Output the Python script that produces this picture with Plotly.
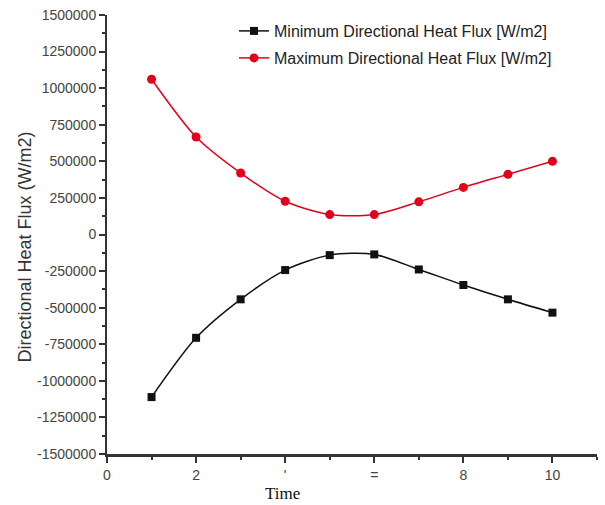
import plotly.graph_objects as go

time = [1, 2, 3, 4, 5, 6, 7, 8, 9, 10]
min_flux = [-1111000, -706000, -443000, -243000, -141000, -136000, -239000, -345000, -443000, -534000]
max_flux = [1061000, 666000, 420000, 227000, 136000, 136000, 223000, 322000, 411000, 500000]

y_tick_vals = [-1500000, -1250000, -1000000, -750000, -500000, -250000, 0,
               250000, 500000, 750000, 1000000, 1250000, 1500000]
y_tick_labels = ["-1500000", "-1250000", "-1000000", "-750000", "-500000", "-250000", "0",
                 "250000", "500000", "750000", "1000000", "1250000", "1500000"]
x_tick_vals = [0, 2, 4, 6, 8, 10]
x_tick_labels = ["0", "2", "'", "=", "8", "10"]

RED = "#e3001b"
AX = "#333333"

fig = go.Figure()
fig.add_trace(go.Scatter(
    x=time, y=min_flux, mode="lines+markers", name="Minimum Directional Heat Flux [W/m2]",
    line=dict(color="#111111", width=1.5, shape="spline", smoothing=0.8),
    marker=dict(symbol="square", size=8, color="#111111"),
    legend="legend",
))
fig.add_trace(go.Scatter(
    x=time, y=max_flux, mode="lines+markers", name="Maximum Directional Heat Flux [W/m2]",
    line=dict(color=RED, width=1.5, shape="spline", smoothing=0.8),
    marker=dict(symbol="circle", size=9, color=RED),
    legend="legend2",
))

L, R, T, B = 107, 8, 15, 51
W, H = 605, 505
pw, ph = W - L - R, H - T - B

def px(xp):
    return (xp - L) / pw

def py(yp):
    return (H - B - yp) / ph

legfont = dict(family="Liberation Sans, Arial, sans-serif", size=16, color="#222222")

fig.update_layout(
    width=W, height=H,
    margin=dict(l=L, r=R, t=T, b=B),
    paper_bgcolor="white", plot_bgcolor="white",
    font=dict(family="Liberation Sans, Arial, sans-serif", size=14, color="#333333"),
    showlegend=True,
    legend=dict(x=px(234), y=py(31), xanchor="left", yanchor="middle",
                bgcolor="rgba(0,0,0,0)", font=legfont, itemwidth=30),
    legend2=dict(x=px(234), y=py(58), xanchor="left", yanchor="middle",
                 bgcolor="rgba(0,0,0,0)", font=legfont, itemwidth=30),
    xaxis=dict(
        range=[0, 11], tickvals=x_tick_vals, ticktext=x_tick_labels,
        showgrid=False, zeroline=False, showline=True, linecolor=AX, linewidth=2.5,
        ticks="outside", ticklen=6, tickwidth=2, tickcolor=AX,
        minor=dict(ticks="outside", ticklen=3, tickwidth=2, tickcolor=AX, dtick=1, tick0=0, showgrid=False),
        tickfont=dict(size=14, color="#444444"),
    ),
    yaxis=dict(
        range=[-1500000, 1500000], tickvals=y_tick_vals, ticktext=y_tick_labels,
        showgrid=False, zeroline=False, showline=True, linecolor=AX, linewidth=2,
        ticks="outside", ticklen=6, tickwidth=1.5, tickcolor=AX,
        minor=dict(ticks="outside", ticklen=3, tickwidth=1.5, tickcolor=AX, dtick=125000, tick0=0, showgrid=False),
        tickfont=dict(size=14, color="#444444"),
    ),
    annotations=[
        dict(text="Directional Heat Flux (W/m2)", textangle=-90, xref="paper", yref="paper",
             x=px(24), y=py(247.5), xanchor="center", yanchor="middle", showarrow=False,
             font=dict(family="Liberation Sans, Arial, sans-serif", size=18, color="#333333")),
        dict(text="Time", xref="paper", yref="paper",
             x=px(282), y=py(494), xanchor="center", yanchor="middle", showarrow=False,
             font=dict(family="Liberation Serif, Times New Roman, serif", size=17, color="#111111")),
    ],
)

fig.write_html("out.html")
